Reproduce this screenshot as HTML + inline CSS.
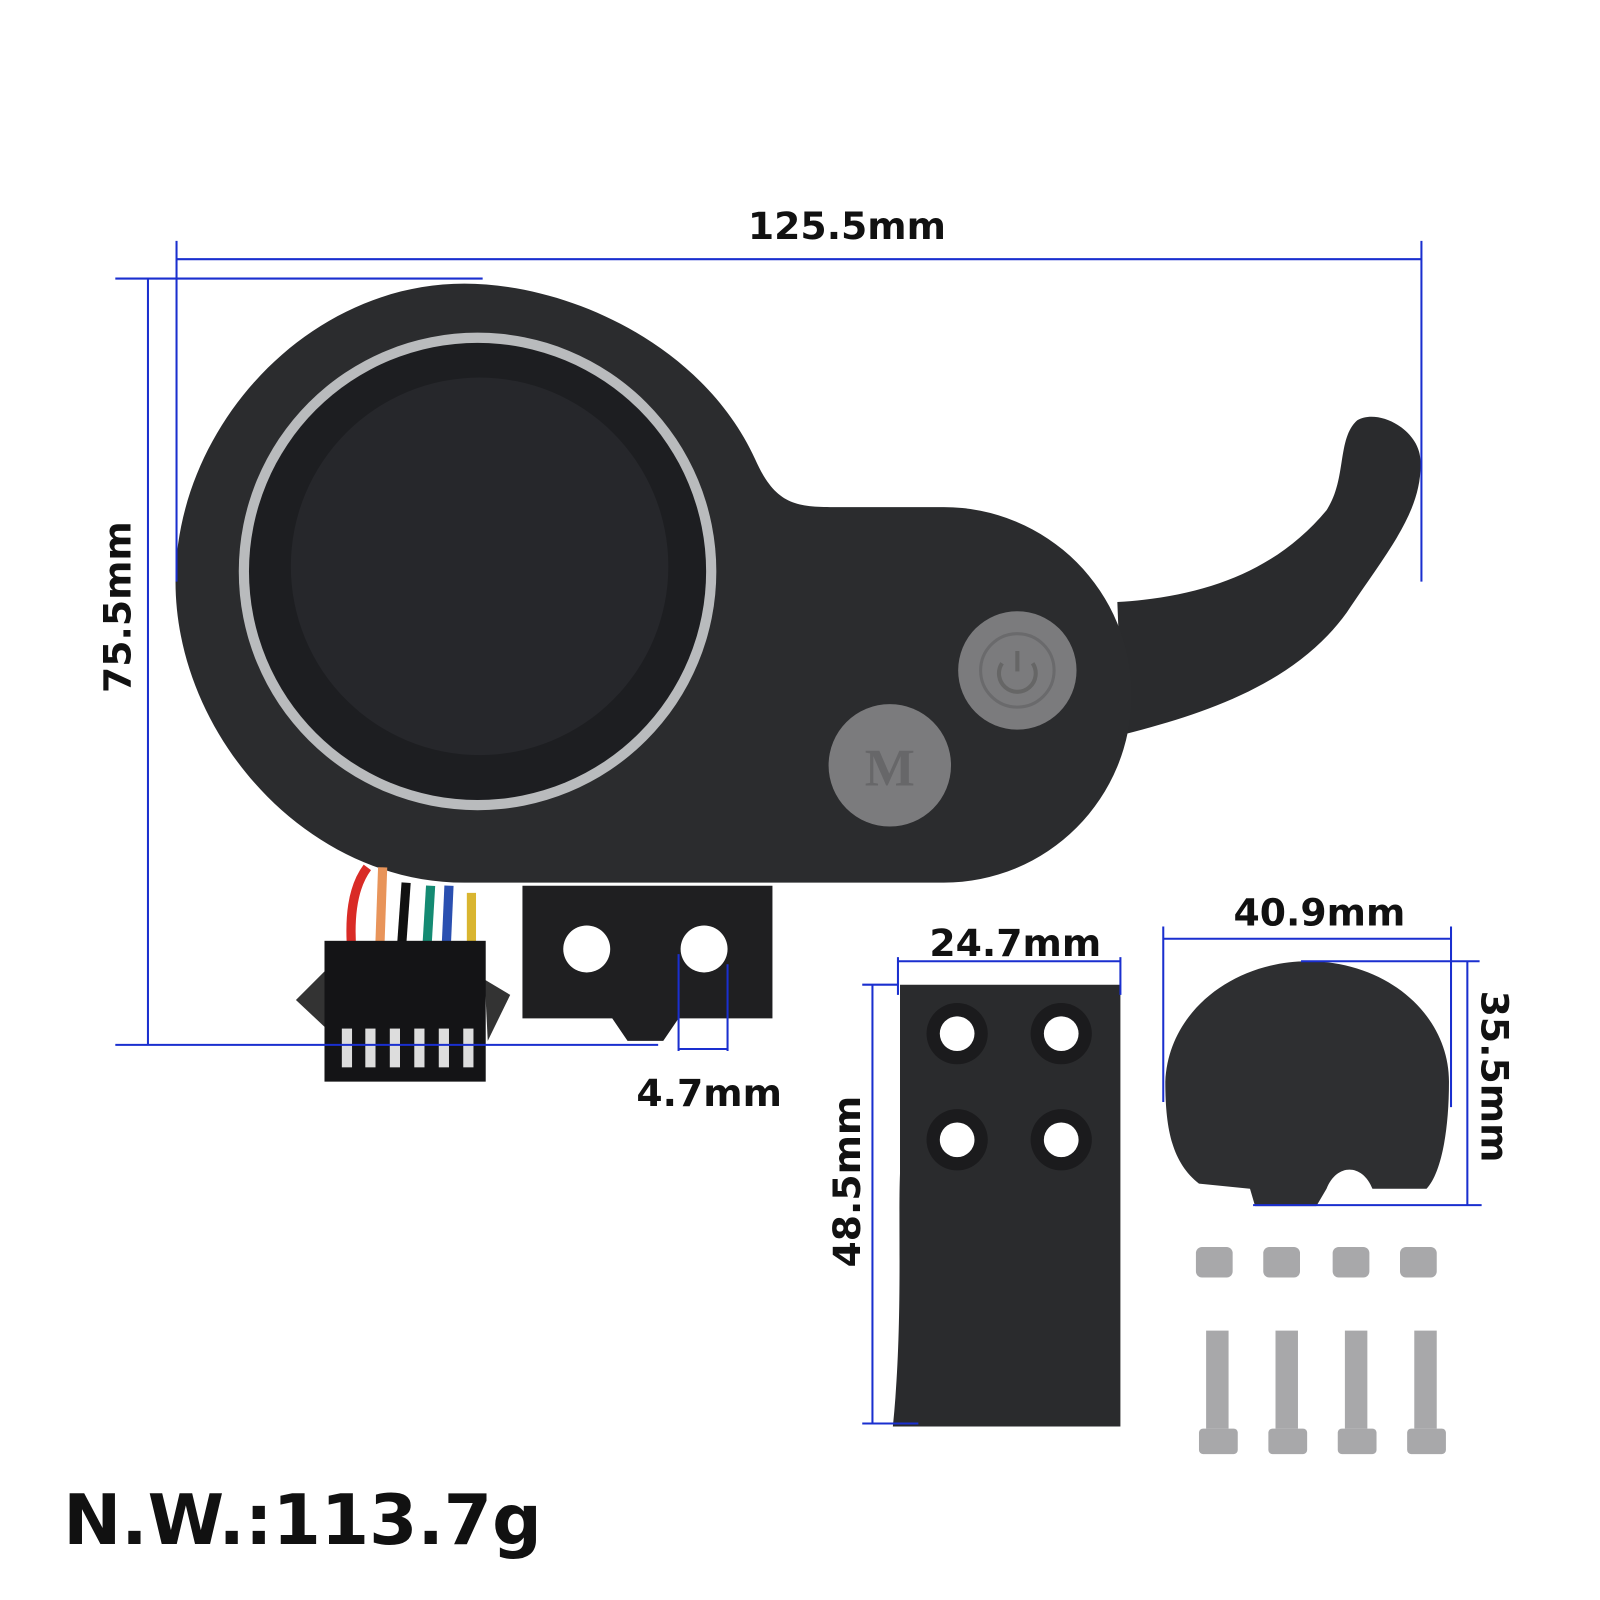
<!DOCTYPE html>
<html><head><style>html,body{margin:0;padding:0;background:#fff}svg{display:block}</style></head>
<body>
<svg width="1600" height="1600" viewBox="0 0 1568 1568" xmlns="http://www.w3.org/2000/svg">
<rect width="1568" height="1568" fill="#fff"/>
<!-- lever -->
<path d="M1095,590 C1180,585 1250,560 1300,500 C1320,470 1310,430 1330,412 C1350,400 1390,420 1392,450 C1395,500 1360,540 1320,600 C1270,670 1180,700 1100,720 Z" fill="#2a2b2d"/>
<!-- body -->
<path d="M455,278 C560,278 690,340 740,450 C760,495 780,497 820,497 L925,497 A180,180 0 0 1 925,865 L455,865 C300,865 172,720 172,570 C172,420 300,278 455,278 Z" fill="#2b2c2e"/>
<!-- display -->
<circle cx="468" cy="560" r="234" fill="#b9bbbd"/>
<circle cx="468" cy="560" r="224" fill="#1d1e21"/>
<circle cx="470" cy="555" r="185" fill="#26272b"/>
<!-- buttons -->
<circle cx="997" cy="657" r="58" fill="#7b7b7d"/>
<circle cx="997" cy="657" r="36" fill="none" stroke="#6a6a6c" stroke-width="3"/>
<path d="M982,650 A18,18 0 1 0 1012,650" fill="none" stroke="#666" stroke-width="4"/>
<line x1="997" y1="638" x2="997" y2="658" stroke="#666" stroke-width="4"/>
<circle cx="872" cy="750" r="60" fill="#7b7b7d"/>
<text x="872" y="770" text-anchor="middle" font-family="Liberation Serif, serif" font-weight="bold" font-size="52" fill="#676769">M</text>
<!-- bracket -->
<path d="M512,868 L757,868 L757,998 L665,998 L650,1020 L615,1020 L600,998 L512,998 Z" fill="#1f1f21"/>
<circle cx="575" cy="930" r="23" fill="#fff"/>
<circle cx="690" cy="930" r="23" fill="#fff"/>
<!-- wires -->
<g fill="none" stroke-width="9">
<path d="M360,850 C345,870 342,900 345,935" stroke="#d92b26"/>
<path d="M375,850 L372,935" stroke="#e8945a"/>
<path d="M398,865 L393,935" stroke="#111"/>
<path d="M422,868 L418,935" stroke="#148a72"/>
<path d="M440,868 L437,935" stroke="#2a4fb0"/>
<path d="M462,875 L462,935" stroke="#d9b530"/>
</g>
<!-- connector -->
<polygon points="290,980 320,950 322,1010" fill="#333"/>
<polygon points="475,960 500,975 478,1020" fill="#333"/>
<rect x="318" y="922" width="158" height="138" fill="#141416"/>
<g fill="#ddd"><rect x="335" y="1008" width="10" height="38"/><rect x="358" y="1008" width="10" height="38"/><rect x="382" y="1008" width="10" height="38"/><rect x="406" y="1008" width="10" height="38"/><rect x="430" y="1008" width="10" height="38"/><rect x="454" y="1008" width="10" height="38"/></g>
<!-- clamp -->
<path d="M882,965 L1098,965 L1098,1398 L875,1398 C885,1300 880,1200 882,1150 Z" fill="#2a2b2d"/>
<g fill="#1b1b1d"><circle cx="938" cy="1013" r="30"/><circle cx="1040" cy="1013" r="30"/><circle cx="938" cy="1117" r="30"/><circle cx="1040" cy="1117" r="30"/></g>
<g fill="#fff"><circle cx="938" cy="1013" r="17"/><circle cx="1040" cy="1013" r="17"/><circle cx="938" cy="1117" r="17"/><circle cx="1040" cy="1117" r="17"/></g>
<!-- cover -->
<path d="M1142,1060 C1145,990 1210,942 1282,942 C1360,942 1420,995 1420,1060 C1420,1110 1412,1150 1398,1165 L1345,1165 C1335,1140 1310,1140 1300,1165 L1290,1182 L1230,1182 L1225,1165 L1175,1160 C1150,1140 1142,1110 1142,1060 Z" fill="#2e2f31"/>
<!-- nuts & bolts -->
<g fill="#a8a8aa">
<rect x="1172" y="1222" width="36" height="30" rx="6"/><rect x="1238" y="1222" width="36" height="30" rx="6"/><rect x="1306" y="1222" width="36" height="30" rx="6"/><rect x="1372" y="1222" width="36" height="30" rx="6"/>
<rect x="1182" y="1304" width="22" height="96"/><rect x="1250" y="1304" width="22" height="96"/><rect x="1318" y="1304" width="22" height="96"/><rect x="1386" y="1304" width="22" height="96"/>
<rect x="1175" y="1400" width="38" height="25" rx="4"/><rect x="1243" y="1400" width="38" height="25" rx="4"/><rect x="1311" y="1400" width="38" height="25" rx="4"/><rect x="1379" y="1400" width="38" height="25" rx="4"/>
</g>
<!-- dimension lines -->
<g stroke="#1a2fcf" stroke-width="2" fill="none">
<line x1="173" y1="254" x2="1393" y2="254"/><line x1="173" y1="236" x2="173" y2="570"/><line x1="1393" y1="236" x2="1393" y2="570"/>
<line x1="113" y1="273" x2="473" y2="273"/><line x1="113" y1="1024" x2="645" y2="1024"/><line x1="145" y1="273" x2="145" y2="1024"/>
<line x1="665" y1="935" x2="665" y2="1030"/><line x1="713" y1="945" x2="713" y2="1030"/><line x1="665" y1="1028" x2="713" y2="1028"/>
<line x1="880" y1="942" x2="1098" y2="942"/><line x1="880" y1="938" x2="880" y2="975"/><line x1="1098" y1="938" x2="1098" y2="975"/>
<line x1="855" y1="965" x2="855" y2="1395"/><line x1="845" y1="965" x2="880" y2="965"/><line x1="845" y1="1395" x2="900" y2="1395"/>
<line x1="1140" y1="920" x2="1422" y2="920"/><line x1="1140" y1="908" x2="1140" y2="1080"/><line x1="1422" y1="908" x2="1422" y2="1085"/>
<line x1="1438" y1="942" x2="1438" y2="1181"/><line x1="1275" y1="942" x2="1450" y2="942"/><line x1="1228" y1="1181" x2="1452" y2="1181"/>
</g>
<g font-family="DejaVu Sans, sans-serif" font-weight="bold" font-size="37" fill="#111" text-anchor="middle">
<text x="830" y="234">125.5mm</text>
<text x="695" y="1084">4.7mm</text>
<text x="995" y="937">24.7mm</text>
<text x="1293" y="907">40.9mm</text>
<text transform="translate(128,595) rotate(-90)">75.5mm</text>
<text transform="translate(843,1158) rotate(-90)">48.5mm</text>
<text transform="translate(1452,1055) rotate(90)">35.5mm</text>
<text x="62" y="1513" text-anchor="start" font-size="68">N.W.:113.7g</text>
</g>
</svg>
</body></html>
